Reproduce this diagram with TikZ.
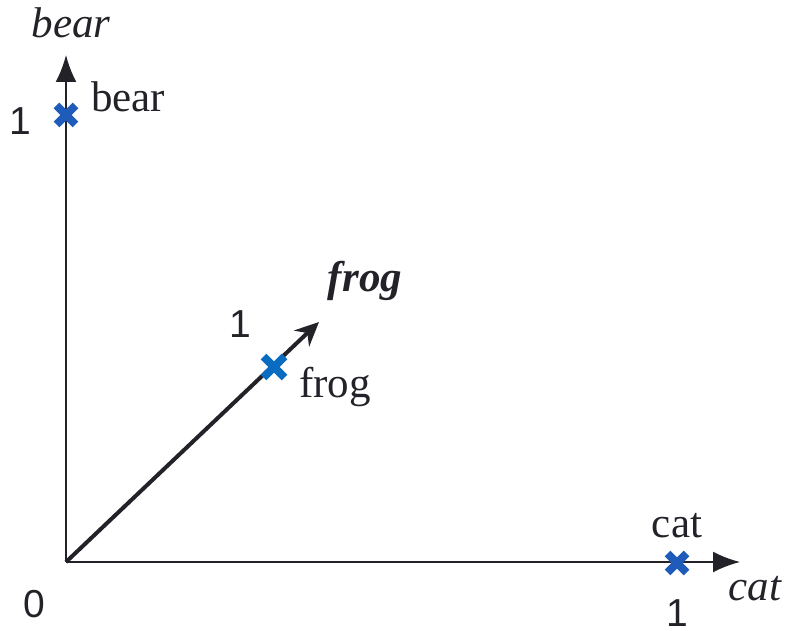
\documentclass[tikz,border=0pt]{standalone}
\usepackage{fontspec}
\setmainfont{Liberation Serif}
\newfontfamily\numfont{Liberation Sans}
\usetikzlibrary{arrows.meta}
\definecolor{ink}{HTML}{222228}
\definecolor{crossblue}{HTML}{1F5BB8}
\definecolor{crossblue2}{HTML}{0A6CC0}
\begin{document}
\begin{tikzpicture}[x=1pt,y=1pt,
  axis/.style={draw=ink,line width=2pt,-{Latex[length=27pt,width=21pt]}},
  frogaxis/.style={draw=ink,line width=4pt,-{Stealth[length=24pt,width=22pt,inset=8pt]}},
  word/.style={font=\fontsize{43}{43}\selectfont,text=ink,inner sep=0pt,anchor=base},
  iword/.style={word,font=\fontsize{43}{43}\selectfont\itshape},
  num/.style={font=\numfont\fontsize{39}{39}\selectfont,text=ink,inner sep=0pt,anchor=base},
  cross/.style={line width=8pt}]
\useasboundingbox (0,0) rectangle (785,630);
\coordinate (O) at (66,68);
\coordinate (Ytip) at (66,575);
\coordinate (Xtip) at (740,68);
\coordinate (Ftip) at (319,308);
\draw[axis] (O) -- (Ytip);
\draw[axis] (O) -- (Xtip);
\draw[frogaxis] (O) -- (Ftip);
% crosses
\coordinate (B) at (66,515);
\coordinate (C) at (677,67);
\coordinate (F) at (274,263);
\draw[cross,crossblue] ([shift={(-9.5,-9.5)}]B) -- ([shift={(9.5,9.5)}]B) ([shift={(-9.5,9.5)}]B) -- ([shift={(9.5,-9.5)}]B);
\draw[cross,crossblue] ([shift={(-9.5,-9.5)}]C) -- ([shift={(9.5,9.5)}]C) ([shift={(-9.5,9.5)}]C) -- ([shift={(9.5,-9.5)}]C);
\draw[cross,crossblue2] ([shift={(-10.5,-10.5)}]F) -- ([shift={(10.5,10.5)}]F) ([shift={(-10.5,10.5)}]F) -- ([shift={(10.5,-10.5)}]F);
% labels
\node[iword] (ybear) at (71,592) {bear};
\node[word] (pbear) at (128,518) {bear};
\node[num] (y1) at (20,495) {1};
\node[word,font=\fontsize{43}{43}\selectfont\bfseries\itshape] (zfrog) at (365,338) {frog};
\node[num] (z1) at (240,292) {1};
\node[word] (pfrog) at (335,232) {frog};
\node[word] (pcat) at (677,93) {cat};
\node[iword] (xcat) at (755,30) {cat};
\node[num] (x1) at (677,4) {1};
\node[num] (o) at (34,13) {0};
\end{tikzpicture}
\end{document}
